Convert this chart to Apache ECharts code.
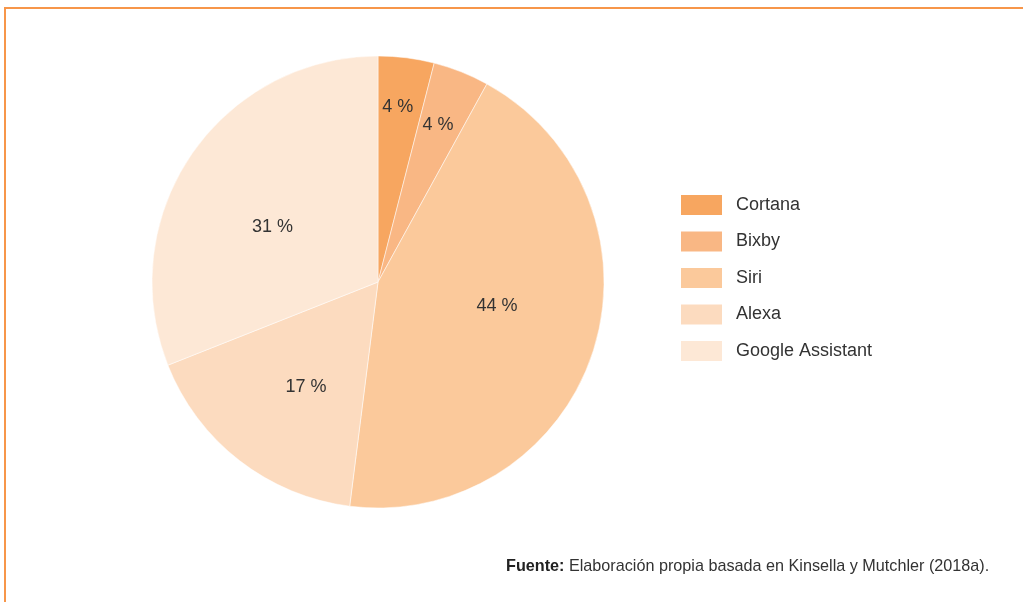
<!DOCTYPE html>
<html><head><meta charset="utf-8">
<script src="https://cdn.jsdelivr.net/npm/echarts@6/dist/echarts.min.js"></script>
<style>html,body{margin:0;padding:0;background:#fff}#c{width:1023px;height:602px}</style>
</head><body><div id="c"></div>
<script>
var categories = ['Cortana', 'Bixby', 'Siri', 'Alexa', 'Google Assistant'];
var values = [4, 4, 44, 17, 31];
var colors = ['#F7A660', '#F9B784', '#FBC99B', '#FCDBBF', '#FDE8D6'];
var sourceBold = 'Fuente:';
var sourceText = ' Elaboración propia basada en Kinsella y Mutchler (2018a).';

var total = values.reduce(function(a, b){return a + b;}, 0);
var mids = [];
var acc = 0;
values.forEach(function(v){ mids.push((acc + v / 2) / total * 2 * Math.PI); acc += v; });
// small manual nudges of label placement (style only)
var nudge = [[-2, -2], [-4, 5], [1, -14], [4, 7], [-3, 15]];

var chart = echarts.init(document.getElementById('c'), null, {renderer: 'canvas'});
chart.setOption({
  animation: false,
  color: colors,
  textStyle: {fontFamily: 'Liberation Sans'},
  title: {
    left: 501, top: 554,
    text: '{b|' + sourceBold + '}{n|' + sourceText + '}',
    textStyle: {
      fontWeight: 'normal',
      rich: {
        b: {fontSize: 16.2, fontWeight: 'bold', color: '#222', fontFamily: 'Liberation Sans'},
        n: {fontSize: 16.2, fontWeight: 'normal', color: '#333', fontFamily: 'Liberation Sans'}
      }
    }
  },
  legend: {
    orient: 'vertical', left: 674, top: 188,
    itemWidth: 43, itemHeight: 22, itemGap: 12.5,
    icon: 'rect',
    textStyle: {fontSize: 18, color: '#333', padding: [0, 0, 0, 8]},
    data: categories
  },
  graphic: [
    {type: 'line', shape: {x1: 4, y1: 8, x2: 1023, y2: 8}, style: {stroke: '#F7964A', lineWidth: 2}},
    {type: 'line', shape: {x1: 5, y1: 8, x2: 5, y2: 602}, style: {stroke: '#F7964A', lineWidth: 2}}
  ],
  series: [{
    type: 'pie',
    center: [378, 282],
    radius: 226,
    startAngle: 90,
    clockwise: true,
    itemStyle: {borderColor: '#fff', borderWidth: 0.5},
    label: {
      position: 'inside',
      fontSize: 18, color: '#333',
      formatter: function(p){ return p.value + ' %'; }
    },
    labelLine: {show: false},
    labelLayout: function(p){
      var i = p.dataIndex;
      var a = mids[i];
      var push = values[i] < 10 ? 58 : 8;
      return {dx: push * Math.sin(a) + nudge[i][0], dy: -push * Math.cos(a) + nudge[i][1]};
    },
    data: categories.map(function(c, i){ return {name: c, value: values[i]}; })
  }]
});
</script></body></html>
